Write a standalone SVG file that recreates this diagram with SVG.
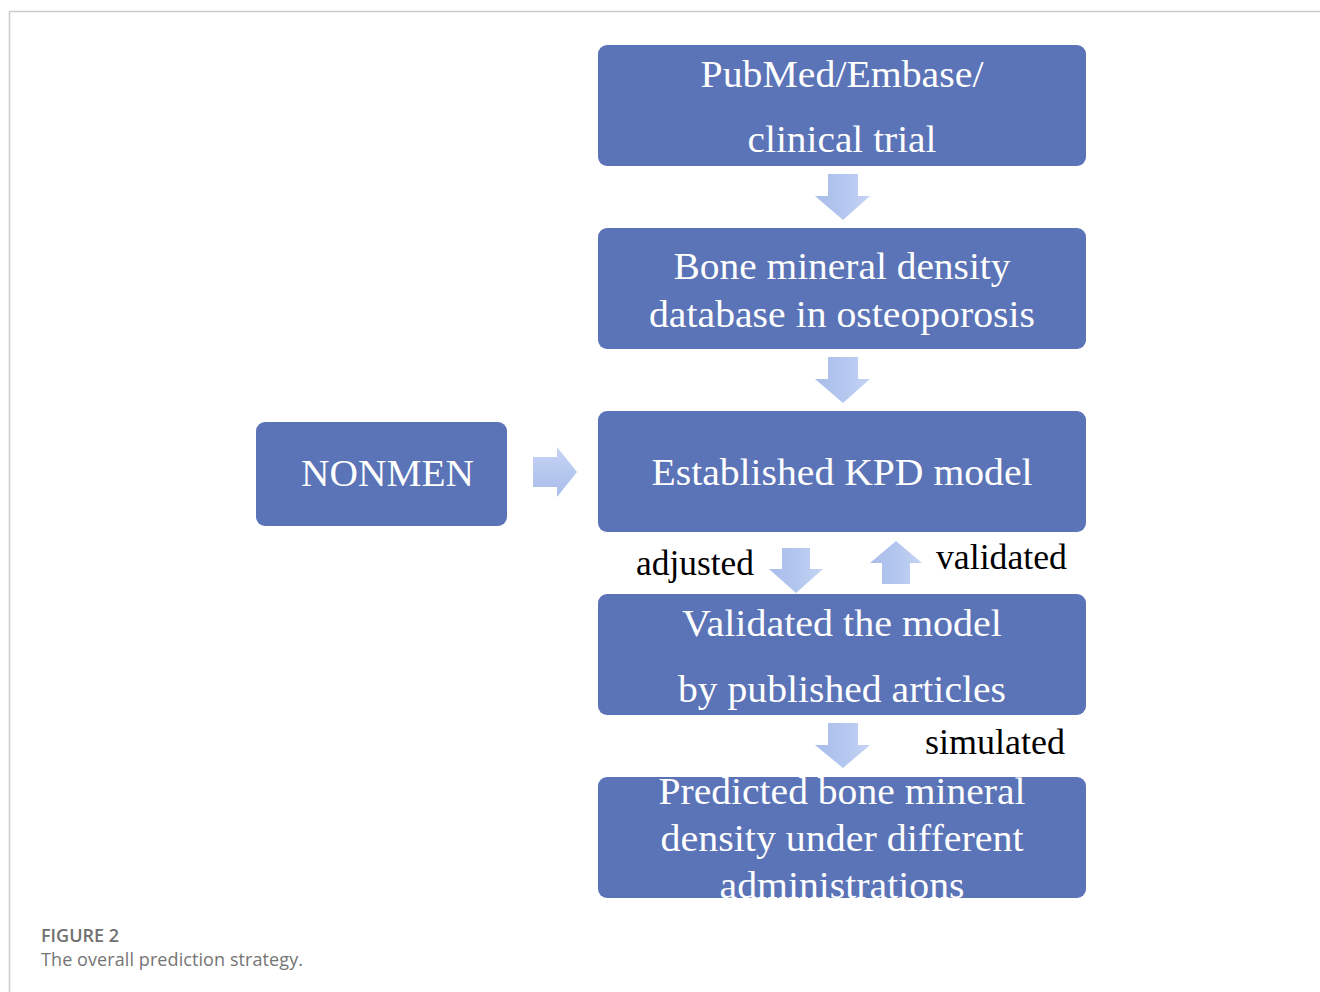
<svg xmlns="http://www.w3.org/2000/svg" width="1320" height="992" viewBox="0 0 1320 992">
<defs>
<style>
.box{fill:#5b73b7;}
.bt{font-family:"Liberation Serif","Times New Roman",serif;font-size:38px;fill:#ffffff;text-anchor:middle;}
.lbl{font-family:"Liberation Serif","Times New Roman",serif;font-size:36px;fill:#000000;}
.arr{fill:url(#gv);}
.cap1{font-family:"Open Sans","Noto Sans",sans-serif;font-size:18px;font-weight:600;fill:#707070;}
.cap2{font-family:"Open Sans","Noto Sans",sans-serif;font-size:18px;fill:#757575;}
</style>
<linearGradient id="gv" x1="0" y1="0" x2="1" y2="0">
<stop offset="0" stop-color="#a9bdea"/>
<stop offset="0.5" stop-color="#b3c6ef"/>
<stop offset="1" stop-color="#c6d4f4"/>
</linearGradient>
<linearGradient id="gh" x1="0" y1="0" x2="0" y2="1">
<stop offset="0" stop-color="#c6d4f4"/>
<stop offset="1" stop-color="#a9bdea"/>
</linearGradient>
<clipPath id="c5"><rect x="598" y="777" width="488" height="121" rx="9"/></clipPath>
</defs>
<rect x="0" y="0" width="1320" height="992" fill="#ffffff"/>
<path d="M9.5 992 V11.5 H1320" fill="none" stroke="#cccccc" stroke-width="1.5"/>

<g id="connectors">
<polygon class="arr" points="828,174 858,174 858,196 870,196 843,220 815,196 828,196"/>
<polygon class="arr" points="828,357 858,357 858,379 870,379 843,403 815,379 828,379"/>
<polygon fill="url(#gh)" points="533,457 557,457 557,447 577,472 557,497 557,487 533,487"/>
<polygon class="arr" points="782,548 810,548 810,569 823,569 796,593 769,569 782,569"/>
<polygon class="arr" points="882,584 910,584 910,563 922,563 896,541 870,563 882,563"/>
<polygon class="arr" points="828,723 858,723 858,745 870,745 843,768 815,745 828,745"/>
<text class="lbl" x="636" y="575" textLength="118" lengthAdjust="spacingAndGlyphs">adjusted</text>
<text class="lbl" x="936" y="569" textLength="131" lengthAdjust="spacingAndGlyphs">validated</text>
<text class="lbl" x="925" y="754" textLength="140" lengthAdjust="spacingAndGlyphs">simulated</text>
</g>

<g id="node-pubmed">
<rect class="box" x="598" y="45" width="488" height="121" rx="9"/>
<text class="bt" x="842" y="87" textLength="283" lengthAdjust="spacingAndGlyphs">PubMed/Embase/</text>
<text class="bt" x="842" y="152" textLength="189" lengthAdjust="spacingAndGlyphs">clinical trial</text>
</g>

<g id="node-bmd-database">
<rect class="box" x="598" y="228" width="488" height="121" rx="9"/>
<text class="bt" x="842" y="279" textLength="337" lengthAdjust="spacingAndGlyphs">Bone mineral density</text>
<text class="bt" x="842" y="327" textLength="386" lengthAdjust="spacingAndGlyphs">database in osteoporosis</text>
</g>

<g id="node-nonmen">
<rect class="box" x="256" y="422" width="251" height="104" rx="9"/>
<text class="bt" x="387.5" y="486" textLength="173" lengthAdjust="spacingAndGlyphs">NONMEN</text>
</g>

<g id="node-kpd-model">
<rect class="box" x="598" y="411" width="488" height="121" rx="9"/>
<text class="bt" x="842" y="485" textLength="381" lengthAdjust="spacingAndGlyphs">Established KPD model</text>
</g>

<g id="node-validated">
<rect class="box" x="598" y="594" width="488" height="121" rx="9"/>
<text class="bt" x="842" y="636" textLength="320" lengthAdjust="spacingAndGlyphs">Validated the model</text>
<text class="bt" x="842" y="702" textLength="328" lengthAdjust="spacingAndGlyphs">by published articles</text>
</g>

<g id="node-predicted">
<rect class="box" x="598" y="777" width="488" height="121" rx="9"/>
<g clip-path="url(#c5)">
<text class="bt" x="842" y="804" textLength="367" lengthAdjust="spacingAndGlyphs">Predicted bone mineral</text>
<text class="bt" x="842" y="851" textLength="363" lengthAdjust="spacingAndGlyphs">density under different</text>
<text class="bt" x="842" y="898" textLength="245" lengthAdjust="spacingAndGlyphs">administrations</text>
</g>
</g>

<g id="caption">
<text class="cap1" x="41" y="942">FIGURE 2</text>
<text class="cap2" x="41" y="966" textLength="262" lengthAdjust="spacing">The overall prediction strategy.</text>
</g>
</svg>
